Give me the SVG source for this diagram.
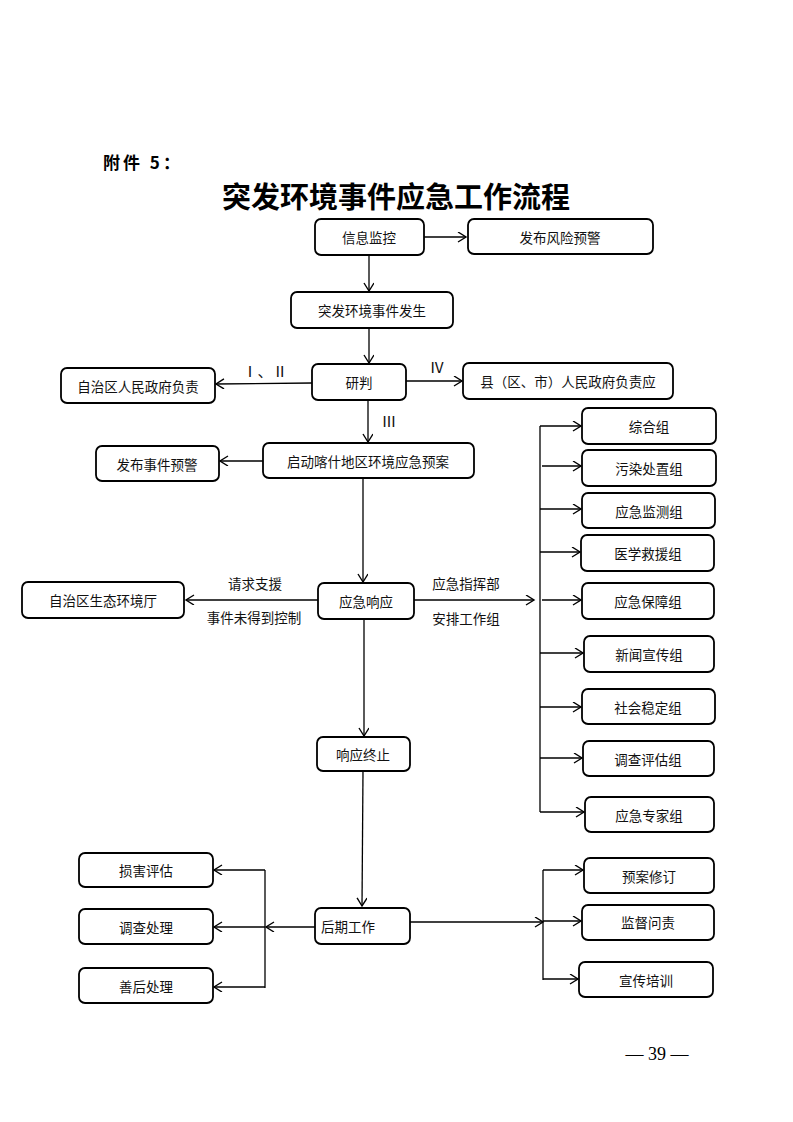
<svg xmlns="http://www.w3.org/2000/svg" width="793" height="1122" viewBox="0 0 793 1122">
<defs>
<style>
.box{fill:#fff;stroke:#000;stroke-width:1.8}
.t{font-family:"Noto Sans CJK SC","Liberation Serif",serif;font-size:13.5px;fill:#111;text-anchor:middle;dominant-baseline:central}
.r{font-family:"Liberation Serif","Noto Sans CJK SC",serif;font-size:15px;fill:#111;text-anchor:middle;dominant-baseline:central}
.c{fill:none;stroke:#000;stroke-width:1.3}
.a{marker-end:url(#ah)}
</style>
<marker id="ah" markerUnits="userSpaceOnUse" markerWidth="12" markerHeight="12" refX="9" refY="5" orient="auto">
<path d="M1,0 L9,5 L1,10" fill="none" stroke="#000" stroke-width="1.4"/>
</marker>
</defs>
<rect width="793" height="1122" fill="#fff"/>
<text x="103" y="161" style="font-family:'Noto Sans CJK SC',sans-serif;font-size:17px;font-weight:bold;dominant-baseline:central;letter-spacing:3px">附件 5：</text>
<text x="396" y="195" style="font-family:'Noto Sans CJK SC',sans-serif;font-size:29px;font-weight:bold;text-anchor:middle;dominant-baseline:central">突发环境事件应急工作流程</text>

<g id="connectors">
<line class="c a" x1="424" y1="237" x2="466" y2="237"/>
<line class="c a" x1="369" y1="255" x2="369" y2="291"/>
<line class="c a" x1="369" y1="328" x2="369" y2="363"/>
<line class="c a" x1="312" y1="383" x2="216" y2="384"/>
<line class="c a" x1="406" y1="381" x2="462" y2="381"/>
<line class="c a" x1="368" y1="400" x2="368" y2="442"/>
<line class="c a" x1="263" y1="461" x2="220" y2="461"/>
<line class="c a" x1="363" y1="478" x2="363" y2="582"/>
<line class="c a" x1="318" y1="600" x2="186" y2="600"/>
<line class="c a" x1="414" y1="600" x2="534" y2="600"/>
<line class="c" x1="540" y1="426" x2="540" y2="812"/>
<line class="c a" x1="540" y1="426" x2="581" y2="426"/>
<line class="c a" x1="542" y1="466" x2="581" y2="466"/>
<line class="c a" x1="540" y1="509" x2="581" y2="509"/>
<line class="c a" x1="540" y1="552" x2="580" y2="552"/>
<line class="c a" x1="542" y1="600" x2="581" y2="600"/>
<line class="c a" x1="540" y1="653" x2="583" y2="653"/>
<line class="c a" x1="540" y1="707" x2="581" y2="707"/>
<line class="c a" x1="540" y1="758" x2="582" y2="758"/>
<line class="c a" x1="540" y1="812" x2="584" y2="812"/>
<line class="c a" x1="364" y1="619" x2="364" y2="736"/>
<line class="c a" x1="363" y1="771" x2="362" y2="906"/>
<line class="c a" x1="315" y1="927" x2="266" y2="927"/>
<line class="c" x1="265" y1="870" x2="265" y2="988"/>
<line class="c a" x1="265" y1="870" x2="214" y2="870"/>
<line class="c a" x1="265" y1="927" x2="214" y2="927"/>
<line class="c a" x1="265" y1="987" x2="214" y2="987"/>
<line class="c a" x1="410" y1="922" x2="543" y2="922"/>
<line class="c" x1="543" y1="870" x2="543" y2="980"/>
<line class="c a" x1="543" y1="870" x2="583" y2="870"/>
<line class="c a" x1="543" y1="921" x2="581" y2="921"/>
<line class="c a" x1="543" y1="979" x2="578" y2="979"/>
<text class="r" x="265" y="372">Ⅰ、Ⅱ</text>
<text class="r" x="437" y="368">Ⅳ</text>
<text class="r" x="389" y="422">Ⅲ</text>
<text class="t" x="255" y="583">请求支援</text>
<text class="t" x="254" y="617">事件未得到控制</text>
<text class="t" x="466" y="583">应急指挥部</text>
<text class="t" x="466" y="618">安排工作组</text>
</g>

<g id="n1"><rect class="box" x="315" y="219" width="109" height="36" rx="6"/><text class="t" x="369" y="237">信息监控</text></g>
<g id="n2"><rect class="box" x="468" y="219" width="185" height="35" rx="6"/><text class="t" x="560" y="237">发布风险预警</text></g>
<g id="n3"><rect class="box" x="291" y="292" width="162" height="36" rx="6"/><text class="t" x="372" y="310">突发环境事件发生</text></g>
<g id="n4"><rect class="box" x="312" y="364" width="94" height="36" rx="6"/><text class="t" x="359" y="382">研判</text></g>
<g id="n5"><rect class="box" x="61" y="368" width="154" height="35" rx="6"/><text class="t" x="138" y="386">自治区人民政府负责</text></g>
<g id="n6"><rect class="box" x="463" y="363" width="210" height="36" rx="6"/><text class="t" x="568" y="381">县（区、市）人民政府负责应</text></g>
<g id="n7"><rect class="box" x="263" y="443" width="211" height="35" rx="6"/><text class="t" x="368" y="461">启动喀什地区环境应急预案</text></g>
<g id="n8"><rect class="box" x="96" y="446" width="123" height="35" rx="6"/><text class="t" x="157" y="464">发布事件预警</text></g>
<g id="n9"><rect class="box" x="318" y="583" width="96" height="36" rx="6"/><text class="t" x="366" y="601">应急响应</text></g>
<g id="n10"><rect class="box" x="22" y="582" width="162" height="36" rx="6"/><text class="t" x="103" y="600">自治区生态环境厅</text></g>
<g id="g1"><rect class="box" x="582" y="408" width="134" height="36" rx="6"/><text class="t" x="649" y="426">综合组</text></g>
<g id="g2"><rect class="box" x="582" y="450" width="134" height="36" rx="6"/><text class="t" x="649" y="468">污染处置组</text></g>
<g id="g3"><rect class="box" x="582" y="493" width="133" height="35" rx="6"/><text class="t" x="649" y="511">应急监测组</text></g>
<g id="g4"><rect class="box" x="581" y="535" width="133" height="36" rx="6"/><text class="t" x="648" y="553">医学救援组</text></g>
<g id="g5"><rect class="box" x="582" y="583" width="132" height="36" rx="6"/><text class="t" x="648" y="601">应急保障组</text></g>
<g id="g6"><rect class="box" x="584" y="636" width="130" height="36" rx="6"/><text class="t" x="649" y="654">新闻宣传组</text></g>
<g id="g7"><rect class="box" x="582" y="689" width="133" height="35" rx="6"/><text class="t" x="648" y="707">社会稳定组</text></g>
<g id="g8"><rect class="box" x="583" y="741" width="131" height="35" rx="6"/><text class="t" x="648" y="759">调查评估组</text></g>
<g id="g9"><rect class="box" x="585" y="797" width="129" height="35" rx="6"/><text class="t" x="649" y="815">应急专家组</text></g>
<g id="n11"><rect class="box" x="317" y="737" width="93" height="34" rx="6"/><text class="t" x="363" y="754">响应终止</text></g>
<g id="n12"><rect class="box" x="315" y="908" width="95" height="36" rx="6"/><text class="t" x="348" y="926">后期工作</text></g>
<g id="n13"><rect class="box" x="79" y="853" width="134" height="34" rx="6"/><text class="t" x="146" y="870">损害评估</text></g>
<g id="n14"><rect class="box" x="79" y="909" width="134" height="35" rx="6"/><text class="t" x="146" y="927">调查处理</text></g>
<g id="n15"><rect class="box" x="79" y="968" width="134" height="35" rx="6"/><text class="t" x="146" y="986">善后处理</text></g>
<g id="n16"><rect class="box" x="584" y="858" width="130" height="35" rx="6"/><text class="t" x="649" y="876">预案修订</text></g>
<g id="n17"><rect class="box" x="582" y="905" width="132" height="35" rx="6"/><text class="t" x="648" y="922">监督问责</text></g>
<g id="n18"><rect class="box" x="579" y="962" width="134" height="35" rx="6"/><text class="t" x="646" y="980">宣传培训</text></g>
<text x="657" y="1054" style="font-family:'Liberation Serif',serif;font-size:18px;text-anchor:middle;dominant-baseline:central">— 39 —</text>
</svg>
